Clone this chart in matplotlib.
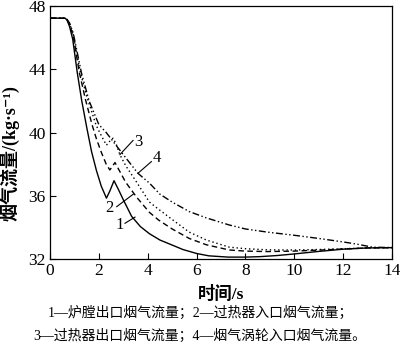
import matplotlib
matplotlib.use("Agg")
import matplotlib.pyplot as plt

# Flue gas flow after the event.
# 1: furnace outlet, 2: superheater inlet, 3: superheater outlet, 4: gas turbine inlet
t1 = [0, 0.62, 0.7, 0.8, 0.93, 1.12, 1.3, 1.5, 1.7, 1.9, 2.1, 2.31, 2.45, 2.62,
      2.8, 3.0, 3.34, 3.7, 4.07, 4.5, 5.05, 5.44, 6.0, 6.5, 7.3, 8.0, 8.6, 9.3,
      10.0, 11.0, 12.0, 13.0, 14.0]
y1 = [47.23, 47.23, 47.1, 46.7, 45.9, 43.75, 42.0, 40.35, 38.8, 37.6, 36.6,
      35.85, 36.3, 36.95, 36.4, 35.75, 34.7, 34.05, 33.6, 33.2, 32.85, 32.6,
      32.35, 32.2, 32.12, 32.12, 32.15, 32.22, 32.32, 32.48, 32.62, 32.7, 32.72]

t2 = [0, 0.62, 0.7, 0.8, 0.95, 1.2, 1.45, 1.72, 1.9, 2.1, 2.3, 2.45, 2.55,
      2.66, 2.8, 3.1, 3.55, 4.07, 4.44, 5.0, 5.7, 6.4, 7.34, 8.0, 8.9, 10.0,
      11.0, 12.0, 13.0, 14.0]
y2 = [47.23, 47.23, 47.13, 46.85, 46.1, 43.8, 42.1, 40.5, 39.6, 38.75, 38.0,
      37.63, 37.85, 38.1, 37.7, 36.85, 35.9, 34.95, 34.47, 33.9, 33.3, 32.9,
      32.57, 32.5, 32.47, 32.5, 32.56, 32.63, 32.7, 32.72]

t3 = [0, 0.62, 0.7, 0.8, 0.95, 1.25, 1.5, 1.89, 2.1, 2.31, 2.45, 2.58, 2.7,
      2.86, 3.1, 3.55, 4.07, 4.44, 5.0, 5.7, 6.4, 7.34, 8.0, 8.9, 10.0, 11.0,
      12.0, 13.0, 14.0]
y3 = [47.23, 47.23, 47.14, 46.9, 46.2, 43.75, 42.3, 40.45, 39.8, 39.2, 39.45,
      39.64, 39.3, 38.6, 37.9, 36.85, 35.6, 35.15, 34.5, 33.7, 33.2, 32.75,
      32.65, 32.58, 32.57, 32.6, 32.65, 32.7, 32.72]

t4 = [0, 0.62, 0.7, 0.8, 0.95, 1.29, 1.6, 2.0, 2.3, 2.6, 3.0, 3.6, 4.07, 4.5,
      5.0, 5.7, 6.4, 7.34, 8.0, 8.9, 10.0, 11.0, 12.0, 12.6, 13.2, 14.0]
y4 = [47.23, 47.23, 47.15, 46.92, 46.3, 43.75, 42.0, 40.5, 40.0, 39.4, 38.6,
      37.42, 36.8, 36.1, 35.6, 35.0, 34.6, 34.15, 33.9, 33.7, 33.5, 33.3,
      33.08, 32.93, 32.75, 32.72]

x_ticks = [0, 2, 4, 6, 8, 10, 12, 14]
y_ticks = [32, 36, 40, 44, 48]

caption_1 = "1—炉膛出口烟气流量；2—过热器入口烟气流量；"
caption_2 = "3—过热器出口烟气流量；4—烟气涡轮入口烟气流量。"

fonts = ["Liberation Serif", "Noto Sans CJK SC", "DejaVu Sans"]
plt.rcParams["font.family"] = fonts

fig = plt.figure(figsize=(4.0, 3.51), dpi=100)
ax = fig.add_axes([0.125, 0.2621, 0.855, 0.7208])

lw = 1.0
ax.plot(t1, y1, color="black", lw=lw, ls="-")
ax.plot(t2, y2, color="black", lw=lw, ls=(0, (4, 2.5)))
ax.plot(t3, y3, color="black", lw=lw, ls=(0, (1, 2)))
ax.plot(t4, y4, color="black", lw=lw, ls=(0, (5, 1.8, 1, 1.8, 1, 1.8)))

# curve labels with short leader lines
labels = [("1", (2.84, 34.15), (3.07, 34.26), (3.48, 34.65)),
          ("2", (2.43, 35.2), (2.73, 35.31), (3.41, 36.1)),
          ("3", (3.61, 39.42), (3.4, 39.5), (2.86, 38.6)),
          ("4", (4.36, 38.37), (4.15, 38.16), (3.6, 37.42))]
for text, pos, p0, p1 in labels:
    ax.plot([p0[0], p1[0]], [p0[1], p1[1]], color="black", lw=0.8)
    ax.text(pos[0], pos[1], text, fontsize=12, ha="center", va="center")

ax.set_xlim(0, 14)
ax.set_ylim(32, 48)
ax.set_xticks(x_ticks)
ax.set_yticks(y_ticks)
ax.tick_params(direction="in", length=4, width=0.8, labelsize=12.5,
               top=False, right=False, pad=3)
for s in ax.spines.values():
    s.set_linewidth(0.9)

ax.set_xlabel("时间/s", fontsize=12.5, fontweight="bold", labelpad=5)
ax.set_ylabel("烟气流量/(kg·s⁻¹)", fontsize=13, fontweight="bold")
ax.yaxis.set_label_coords(-0.088, 0.42)

fig.text(0.5, 0.108, caption_1, fontsize=10, ha="center", va="center")
fig.text(0.5, 0.043, caption_2, fontsize=10, ha="center", va="center")

fig.savefig("out.png", dpi=100)
